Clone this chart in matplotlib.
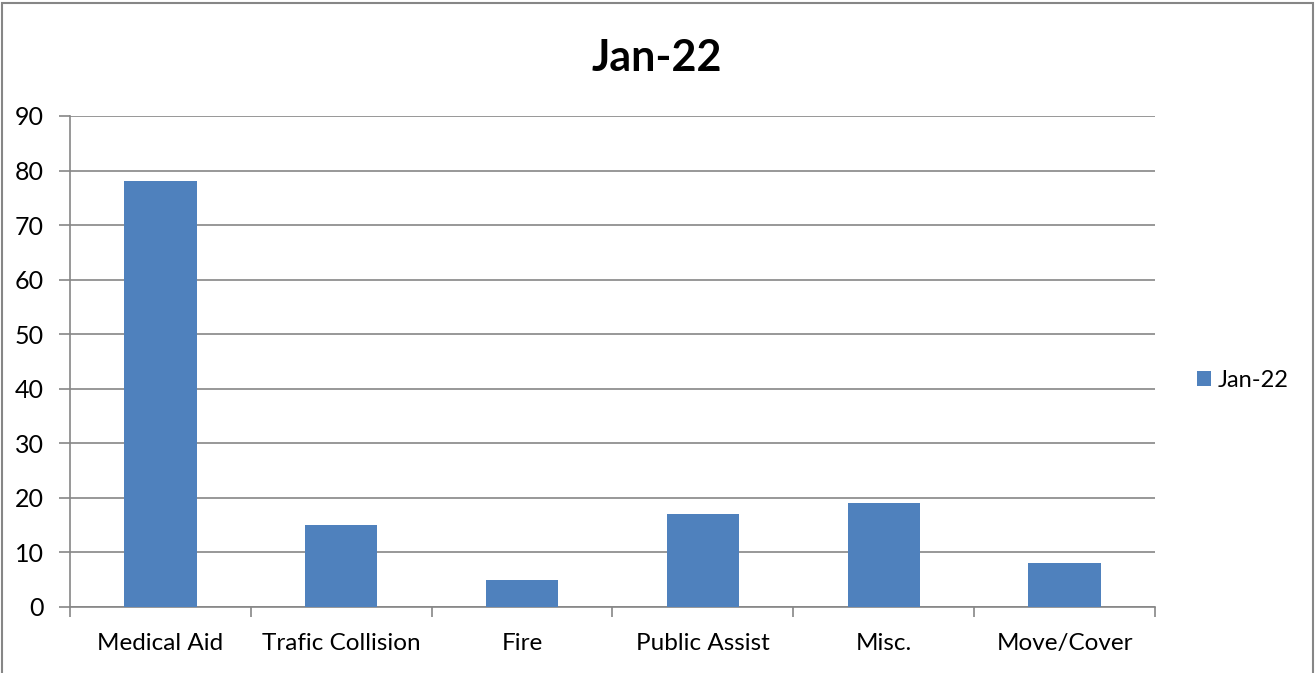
import numpy as np
import matplotlib.pyplot as plt
from matplotlib.patches import Rectangle
from matplotlib.ticker import FixedLocator, NullFormatter

# data
categories = ["Medical Aid", "Trafic Collision", "Fire", "Public Assist", "Misc.", "Move/Cover"]
counts = [78, 15, 5, 17, 19, 8]
series_name = "Jan-22"
y_ticks = list(range(0, 91, 10))

plt.rcParams["font.family"] = ["Lato", "DejaVu Sans"]
grid_col = "#868686"
bar_col = "#4F81BD"

fig = plt.figure(figsize=(13.15, 6.73), dpi=100)
ax = fig.add_axes([0.0532, 0.0981, 0.8251, 0.7296])

x = np.arange(len(categories))
bars = ax.bar(x, counts, width=0.4, color=bar_col, label=series_name, zorder=3)

ax.set_xlim(-0.5, len(categories) - 0.5)
ax.set_ylim(0, 90)
ax.set_yticks(y_ticks)
ax.tick_params(axis="y", labelsize=18, length=8, width=1.2, color=grid_col, pad=11)
ax.yaxis.grid(True, color=grid_col, linewidth=1.2, zorder=0)

ax.set_xticks(x)
ax.set_xticklabels(categories, fontsize=17.5)
ax.tick_params(axis="x", which="major", length=0, pad=19)
ax.xaxis.set_minor_locator(FixedLocator(np.arange(-0.5, len(categories), 1.0)))
ax.xaxis.set_minor_formatter(NullFormatter())
ax.tick_params(axis="x", which="minor", length=7, width=1.2, color=grid_col)

for side in ["top", "right"]:
    ax.spines[side].set_visible(False)
for side in ["left", "bottom"]:
    ax.spines[side].set_color(grid_col)
    ax.spines[side].set_linewidth(1.2)

fig.text(0.4992, 0.914, "Jan-22", ha="center", va="center", fontsize=31, fontweight="bold")

fig.legend(handles=[bars], labels=[series_name], loc="center left",
           bbox_to_anchor=(0.894, 0.435), frameon=False, fontsize=17,
           handlelength=0.6, handleheight=0.6, handletextpad=0.3)

# outer chart border
fig.patches.append(Rectangle((0.0015, -0.01), 0.9970, 1.0055, transform=fig.transFigure,
                             fill=False, edgecolor=grid_col, linewidth=1.5))

fig.savefig("out.png", dpi=100)
